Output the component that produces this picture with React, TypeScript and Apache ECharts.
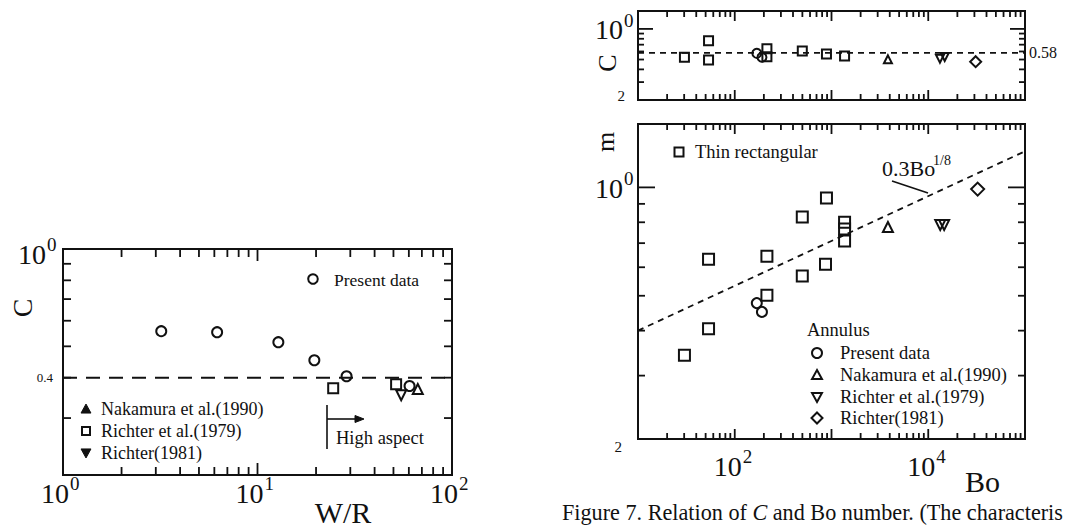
import React, { useEffect, useRef } from 'react';
import * as echarts from 'echarts';

const SERIF = '"Liberation Serif", "Times New Roman", serif';

// ---------- Left chart: C vs W/R ----------
const leftXRange = [1, 100];
const leftYRange = [0.2, 1];
const presentWR = [3.2, 6.2, 12.8, 19.6, 28.7, 60.5];
const presentC = [0.557, 0.553, 0.515, 0.453, 0.404, 0.377];
const richter79WR = [24.5, 51.6];
const richter79C = [0.371, 0.382];
const nakamuraWR = [66.7];
const nakamuraC = [0.369];
const richter81WR = [54.8];
const richter81C = [0.353];
const leftLineWR = [1, 100];
const leftLineC = [0.4, 0.4];

// ---------- Right top: C vs Bo ----------
const rightXRange = [10, 100000];
const rightYRange = [0.2, 1.5];
const topThinBo = [30.2, 53.6, 53.6, 215, 215, 499, 887, 1365];
const topThinC = [0.526, 0.766, 0.494, 0.638, 0.533, 0.607, 0.566, 0.542];
const topPresentBo = [169, 191];
const topPresentC = [0.575, 0.526];
const topNakamuraBo = [3830];
const topNakamuraC = [0.502];
const topRichter79Bo = [13200, 14800];
const topRichter79C = [0.51, 0.53];
const topRichter81Bo = [30900];
const topRichter81C = [0.476];
const topLineBo = [10, 100000];
const topLineC = [0.58, 0.58];

// ---------- Right bottom: m vs Bo ----------
const mThinBo = [30.2, 53.6, 53.6, 215, 215, 499, 499, 887, 867, 1365, 1365, 1365];
const mThinM = [0.342, 0.405, 0.632, 0.644, 0.502, 0.828, 0.567, 0.934, 0.612, 0.8, 0.766, 0.71];
const mPresentBo = [169, 191];
const mPresentM = [0.477, 0.451];
const mNakamuraBo = [3830];
const mNakamuraM = [0.776];
const mRichter79Bo = [13300, 14600];
const mRichter79M = [0.786, 0.786];
const mRichter81Bo = [32400];
const mRichter81M = [0.989];
const fitBo = [10, 100000];
const fitM = [0.4, 1.26];

// ---------- Tick values ----------
const leftXMinorTicks = [2, 3, 4, 5, 6, 7, 8, 9, 20, 30, 40, 50, 60, 70, 80, 90];
const leftXMajorTicks = [10];
const yMinorTicks = [0.3, 0.4, 0.5, 0.6, 0.7, 0.8, 0.9];
const yMajorTicks = [1];
const rightXMinorTicks = [
  20, 30, 40, 50, 60, 70, 80, 90,
  200, 300, 400, 500, 600, 700, 800, 900,
  2000, 3000, 4000, 5000, 6000, 7000, 8000, 9000,
  20000, 30000, 40000, 50000, 60000, 70000, 80000, 90000,
];
const rightXMajorTicks = [100, 1000, 10000];

const INK = '#111';

function scatter(xs: number[], ys: number[], g: number, symbol: string, size: any, rotate = 0, bw = 2) {
  return {
    type: 'scatter',
    xAxisIndex: g,
    yAxisIndex: g,
    data: xs.map((x, i) => [x, ys[i]]),
    symbol,
    symbolSize: size,
    symbolRotate: rotate,
    itemStyle: { color: 'rgba(0,0,0,0)', borderColor: INK, borderWidth: bw, opacity: 1 },
    silent: true,
    z: 4,
  };
}

function dashed(xs: number[], ys: number[], g: number, width: number, dash: any) {
  return {
    type: 'line',
    xAxisIndex: g,
    yAxisIndex: g,
    data: xs.map((x, i) => [x, ys[i]]),
    symbol: 'none',
    silent: true,
    lineStyle: { color: INK, width, type: dash },
    z: 3,
  };
}

function txt(x: number, y: number, text: string, size: number, align = 'left', valign = 'middle', extra: any = {}) {
  return {
    type: 'text',
    x,
    y,
    silent: true,
    z: 10,
    style: {
      text,
      fill: INK,
      font: `${size}px ${SERIF}`,
      fontSize: size,
      fontFamily: SERIF,
      textAlign: align,
      textVerticalAlign: valign,
      align,
      verticalAlign: valign,
    },
    ...extra,
  };
}

function pow10(rightX: number, cy: number, exp: string, size = 28, supSize = 19) {
  return [txt(rightX, cy, '10', size, 'right'), txt(rightX + 1, cy - size * 0.34, exp, supSize, 'left')];
}

const open = () => ({ fill: 'none', stroke: INK, lineWidth: 2 });
const solid = () => ({ fill: INK, stroke: INK, lineWidth: 1 });

function triUp(cx: number, cy: number, s: number, style: any) {
  return { type: 'polygon', silent: true, shape: { points: [[cx, cy - s * 0.55], [cx + s * 0.55, cy + s * 0.45], [cx - s * 0.55, cy + s * 0.45]] }, style };
}
function triDown(cx: number, cy: number, s: number, style: any) {
  return { type: 'polygon', silent: true, shape: { points: [[cx, cy + s * 0.55], [cx + s * 0.55, cy - s * 0.45], [cx - s * 0.55, cy - s * 0.45]] }, style };
}
function square(cx: number, cy: number, s: number, style: any) {
  return { type: 'rect', silent: true, shape: { x: cx - s / 2, y: cy - s / 2, width: s, height: s }, style };
}
function circ(cx: number, cy: number, r: number, style: any) {
  return { type: 'circle', silent: true, shape: { cx, cy, r }, style };
}
function diamond(cx: number, cy: number, s: number, style: any) {
  return { type: 'polygon', silent: true, shape: { points: [[cx, cy - s / 2], [cx + s / 2, cy], [cx, cy + s / 2], [cx - s / 2, cy]] }, style };
}
function seg(x1: number, y1: number, x2: number, y2: number, w = 1.8) {
  return { type: 'line', silent: true, z: 6, shape: { x1, y1, x2, y2 }, style: { stroke: INK, lineWidth: w } };
}

export default function App() {
  const ref = useRef<HTMLDivElement>(null);

  useEffect(() => {
    if (!ref.current) return;
    const chart = echarts.init(ref.current, null, { renderer: 'svg' });

    const hiddenAxis = {
      axisLine: { show: false },
      axisTick: { show: false },
      axisLabel: { show: false },
      splitLine: { show: false },
    };
    const gridStyle = { show: true, borderColor: INK, borderWidth: 2 };

    const dataSeries: any[] = [
      dashed(leftLineWR, leftLineC, 0, 2, [14, 9]),
      scatter(presentWR, presentC, 0, 'circle', 10),
      scatter(richter79WR, richter79C, 0, 'rect', 10),
      scatter(nakamuraWR, nakamuraC, 0, 'triangle', 10),
      scatter(richter81WR, richter81C, 0, 'triangle', 10, 180),
      dashed(topLineBo, topLineC, 1, 1.8, [6, 5]),
      scatter(topThinBo, topThinC, 1, 'rect', 9),
      scatter(topPresentBo, topPresentC, 1, 'circle', 9),
      scatter(topNakamuraBo, topNakamuraC, 1, 'triangle', 8),
      scatter(topRichter79Bo, topRichter79C, 1, 'triangle', 8, 180),
      scatter(topRichter81Bo, topRichter81C, 1, 'diamond', 11),
      dashed(fitBo, fitM, 2, 1.8, [6, 5]),
      scatter(mThinBo, mThinM, 2, 'rect', 11),
      scatter(mPresentBo, mPresentM, 2, 'circle', 10),
      scatter(mNakamuraBo, mNakamuraM, 2, 'triangle', 10),
      scatter(mRichter79Bo, mRichter79M, 2, 'triangle', 10, 180),
      scatter(mRichter81Bo, mRichter81M, 2, 'diamond', 13),
    ];

    const option: any = {
      animation: false,
      grid: [
        { left: 63, top: 249, width: 389, height: 226, ...gridStyle },
        { left: 638, top: 11, width: 387, height: 89, ...gridStyle },
        { left: 638, top: 124, width: 387, height: 315, ...gridStyle },
      ],
      xAxis: [
        { type: 'log', logBase: 10, gridIndex: 0, min: leftXRange[0], max: leftXRange[1], ...hiddenAxis },
        { type: 'log', logBase: 10, gridIndex: 1, min: rightXRange[0], max: rightXRange[1], ...hiddenAxis },
        { type: 'log', logBase: 10, gridIndex: 2, min: rightXRange[0], max: rightXRange[1], ...hiddenAxis },
      ],
      yAxis: [
        { type: 'log', logBase: 10, gridIndex: 0, min: leftYRange[0], max: leftYRange[1], ...hiddenAxis },
        { type: 'log', logBase: 10, gridIndex: 1, min: rightYRange[0], max: rightYRange[1], ...hiddenAxis },
        { type: 'log', logBase: 10, gridIndex: 2, min: rightYRange[0], max: rightYRange[1], ...hiddenAxis },
      ],
      series: dataSeries,
    };
    chart.setOption(option);

    const P = (gi: number, x: number, y: number) => chart.convertToPixel({ gridIndex: gi } as any, [x, y]) as number[];
    const D = (gi: number, px: number, py: number) => chart.convertFromPixel({ gridIndex: gi } as any, [px, py]) as number[];

    // ---- ticks as short two-point line series, ends found through the axes' scales ----
    const tickSeries: any[] = [];
    const tickLine = (gi: number, a: number[], b: number[]) => ({
      type: 'line',
      xAxisIndex: gi,
      yAxisIndex: gi,
      data: [a, b],
      symbol: 'none',
      silent: true,
      clip: false,
      z: 6,
      lineStyle: { color: INK, width: 1.8, type: 'solid' },
    });
    const addXTicks = (gi: number, values: number[], yr: number[], len: number) => {
      for (const v of values) {
        const b = P(gi, v, yr[0]);
        const bIn = D(gi, b[0], b[1] - len);
        tickSeries.push(tickLine(gi, [v, yr[0]], [v, bIn[1]]));
        const t = P(gi, v, yr[1]);
        const tIn = D(gi, t[0], t[1] + len);
        tickSeries.push(tickLine(gi, [v, yr[1]], [v, tIn[1]]));
      }
    };
    const addYTicks = (gi: number, values: number[], xr: number[], len: number) => {
      for (const v of values) {
        const l = P(gi, xr[0], v);
        const lIn = D(gi, l[0] + len, l[1]);
        tickSeries.push(tickLine(gi, [xr[0], v], [lIn[0], v]));
        const r = P(gi, xr[1], v);
        const rIn = D(gi, r[0] - len, r[1]);
        tickSeries.push(tickLine(gi, [xr[1], v], [rIn[0], v]));
      }
    };
    addXTicks(0, leftXMinorTicks, leftYRange, 8);
    addXTicks(0, leftXMajorTicks, leftYRange, 12);
    addYTicks(0, yMinorTicks, leftXRange, 8);
    addXTicks(1, rightXMinorTicks, rightYRange, 6);
    addXTicks(1, rightXMajorTicks, rightYRange, 10);
    addYTicks(1, yMinorTicks, rightXRange, 6);
    addYTicks(1, yMajorTicks, rightXRange, 15);
    addXTicks(2, rightXMinorTicks, rightYRange, 6);
    addXTicks(2, rightXMajorTicks, rightYRange, 10);
    addYTicks(2, yMinorTicks, rightXRange, 7);
    addYTicks(2, yMajorTicks, rightXRange, 17);

    const g: any[] = [];

    // ---- left chart labels ----
    const l1 = P(0, 1, 0.2);
    const l10 = P(0, 10, 0.2);
    const l100 = P(0, 100, 0.2);
    g.push(...pow10(l1[0] + 6, l1[1] + 18, '0'));
    g.push(...pow10(l10[0] + 6, l10[1] + 18, '1'));
    g.push(...pow10(l100[0] + 6, l100[1] + 18, '2'));
    const lTop = P(0, 1, 1);
    g.push(...pow10(lTop[0] - 17, lTop[1] + 5, '0'));
    const l04 = P(0, 1, 0.4);
    g.push(txt(l04[0] - 10, l04[1], '0.4', 13, 'right'));
    g.push(txt(22, 308, 'C', 28, 'center', 'middle', { rotation: Math.PI / 2 }));
    g.push(txt(343, 512, 'W/R', 30, 'center'));
    g.push(circ(313, 279, 4.8, open()));
    g.push(txt(334, 280, 'Present data', 17.5, 'left'));
    g.push(triUp(86, 409, 9, solid()));
    g.push(txt(101, 409, 'Nakamura et al.(1990)', 18, 'left'));
    g.push(square(86, 431, 8, open()));
    g.push(txt(101, 431, 'Richter et al.(1979)', 18, 'left'));
    g.push(triDown(86, 453, 9, solid()));
    g.push(txt(101, 453, 'Richter(1981)', 18, 'left'));
    g.push(seg(327, 405, 327, 449, 1.6));
    g.push(seg(327, 419, 357, 419, 1.6));
    g.push({ type: 'polygon', silent: true, shape: { points: [[364, 419], [355, 415.5], [355, 422.5]] }, style: solid() });
    g.push(txt(336, 438, 'High aspect', 18.5, 'left'));

    // ---- right top labels ----
    const t1 = P(1, 10, 1);
    g.push(...pow10(t1[0] - 15, t1[1] + 1, '0'));
    const t02 = P(1, 10, 0.2);
    g.push(txt(t02[0] - 13, t02[1] - 4, '2', 15, 'right'));
    const t58 = P(1, 100000, 0.58);
    g.push(txt(t58[0] + 4, t58[1], '0.58', 16, 'left'));
    g.push(txt(607, 63, 'C', 26, 'center', 'middle', { rotation: Math.PI / 2 }));

    // ---- right bottom labels ----
    const b1 = P(2, 10, 1);
    g.push(...pow10(b1[0] - 15, b1[1] + 1, '0'));
    const b02 = P(2, 10, 0.2);
    g.push(txt(b02[0] - 16, b02[1] + 8, '2', 15, 'right'));
    const b100 = P(2, 100, 0.2);
    const b10k = P(2, 10000, 0.2);
    g.push(...pow10(b100[0] + 7, b100[1] + 27, '2'));
    g.push(...pow10(b10k[0] + 7, b10k[1] + 27, '4'));
    g.push(txt(965, 481, 'Bo', 30, 'left'));
    g.push(txt(605, 142, 'm', 26, 'center', 'middle', { rotation: Math.PI / 2 }));
    g.push(square(679, 152, 9, open()));
    g.push(txt(695, 152, 'Thin rectangular', 18.5, 'left'));
    g.push(txt(882, 168, '0.3Bo', 22, 'left'));
    g.push(txt(933, 160, '1/8', 14, 'left'));
    g.push(seg(892, 181, 928, 193, 1.6));
    g.push(txt(807, 330, 'Annulus', 18.5, 'left'));
    g.push(circ(817, 353, 5, open()));
    g.push(txt(840, 353, 'Present data', 18.5, 'left'));
    g.push(triUp(817, 375, 9, open()));
    g.push(txt(840, 375, 'Nakamura et al.(1990)', 18.5, 'left'));
    g.push(triDown(817, 397, 9, open()));
    g.push(txt(840, 397, 'Richter et al.(1979)', 18.5, 'left'));
    g.push(diamond(817, 418, 11, open()));
    g.push(txt(840, 418, 'Richter(1981)', 18.5, 'left'));

    g.push({
      type: 'text',
      x: 562,
      y: 512,
      silent: true,
      style: {
        text: '{n|Figure 7. Relation of }{i|C}{n| and Bo number. (The characteris}',
        fill: INK,
        textVerticalAlign: 'middle',
        verticalAlign: 'middle',
        rich: {
          n: { fontSize: 22.2, fontFamily: SERIF, fill: INK },
          i: { fontSize: 22.2, fontFamily: SERIF, fontStyle: 'italic', fill: INK },
        },
      },
    });

    chart.setOption({ series: [...dataSeries, ...tickSeries], graphic: { elements: g } });

    return () => chart.dispose();
  }, []);

  return <div ref={ref} style={{ position: 'absolute', left: 0, top: 0, width: 1069, height: 528, background: '#fff' }} />;
}
